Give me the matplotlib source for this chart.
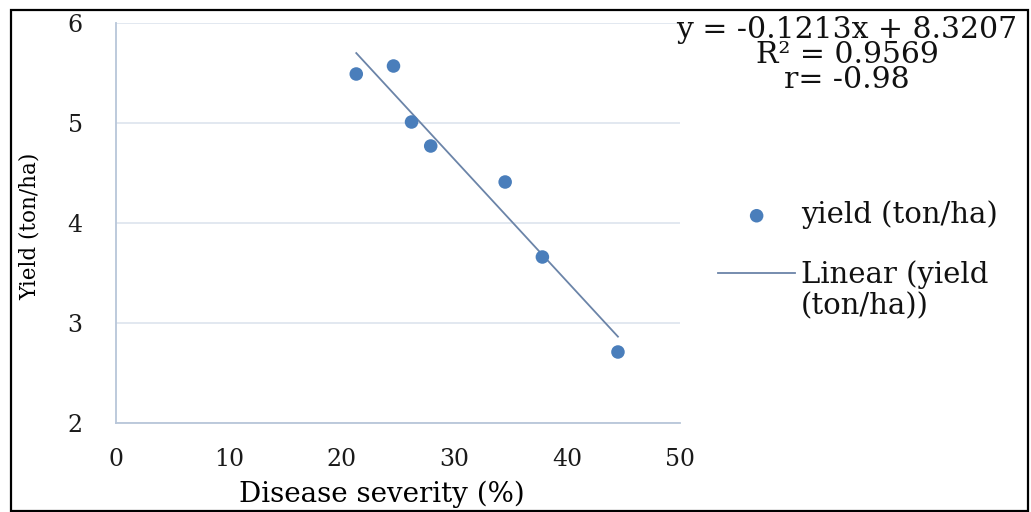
import numpy as np
import matplotlib
matplotlib.use("Agg")
import matplotlib.pyplot as plt
from matplotlib.patches import Rectangle

# ---- data ----
severity = [21.3, 24.6, 26.2, 27.9, 34.5, 37.8, 44.5]
yield_t = [5.49, 5.57, 5.01, 4.77, 4.41, 3.66, 2.71]
x_ticks = [0, 10, 20, 30, 40, 50]
y_ticks = [2, 3, 4, 5, 6]
eq_lines = ["y = -0.1213x + 8.3207", "R\u00b2 = 0.9569", "r= -0.98"]
series_label = "yield (ton/ha)"
trend_label_lines = ["Linear (yield", "(ton/ha))"]
x_label = "Disease severity (%)"
y_label = "Yield (ton/ha)"

plt.rcParams['font.family'] = ['DejaVu Serif']

W, H = 1031, 512
fig = plt.figure(figsize=(W / 100, H / 100), dpi=100)
fig.patch.set_facecolor('white')

def fx(px):
    return px / W

def fy(py):
    return 1 - py / H

ax = fig.add_axes([fx(116), fy(423), fx(680) - fx(116), fy(23) - fy(423)])

dot_color = '#4a7ebb'
trend_color = '#6b84a8'
axis_color = '#b8c6d9'
grid_color = '#dde4ee'

# trendline from a least-squares fit of the data
coef = np.polyfit(severity, yield_t, 1)
xs = np.array([min(severity), max(severity)])
trend, = ax.plot(xs, np.polyval(coef, xs), color=trend_color, lw=1.3, zorder=2)
sc = ax.scatter(severity, yield_t, s=95, color=dot_color, edgecolors='none', zorder=3)

ax.set_xlim(0, 50)
ax.set_ylim(2, 6)
ax.set_xticks(x_ticks)
ax.set_yticks(y_ticks)
ax.grid(axis='y', color=grid_color, lw=1.2)
ax.set_axisbelow(True)
for s in ['top', 'right']:
    ax.spines[s].set_visible(False)
for s in ['left', 'bottom']:
    ax.spines[s].set_color(axis_color)
    ax.spines[s].set_linewidth(1.3)
ax.tick_params(axis='both', length=0, labelsize=17, labelcolor='#1a1a1a')
ax.tick_params(axis='y', pad=24)
ax.tick_params(axis='x', pad=18)

ax.set_xlabel(x_label, fontsize=20, va='center')
ax.xaxis.set_label_coords((382 - 116) / 564, (423 - 494) / 400)
ax.set_ylabel(y_label, fontsize=15.5, va='center')
ax.yaxis.set_label_coords((30 - 116) / 564, (423 - 226) / 400)

# equation text
fig.text(fx(847), fy(55), "\n".join(eq_lines), ha='center', va='center',
         fontsize=21.5, linespacing=0.88, color='#111111')

# legend: rows centred at y=215 and y=275 px, handle from x=718 to 797
LEG_FS = 21

def make_legend(spacing):
    lg = fig.legend([sc, trend], [series_label, trend_label_lines[0]],
                    loc='center left', bbox_to_anchor=(fx(718), fy(245)),
                    bbox_transform=fig.transFigure, frameon=False,
                    fontsize=LEG_FS, labelspacing=spacing, borderpad=0,
                    borderaxespad=0, handlelength=2.65, handletextpad=0.2,
                    scatterpoints=1)
    for t in lg.get_texts():
        t.set_color('#111111')
    return lg

leg = make_legend(0.9)
fig.canvas.draw()
r = fig.canvas.get_renderer()
b0 = leg.get_texts()[0].get_window_extent(r)
b1 = leg.get_texts()[1].get_window_extent(r)
pitch = b0.y0 - b1.y0
em_px = LEG_FS * 100 / 72
spacing = 0.9 + (60 - pitch) / em_px
leg.remove()
leg = make_legend(spacing)
fig.canvas.draw()
b1 = leg.get_texts()[1].get_window_extent(r)
fig.text(b1.x0 / W, (b1.y0 - 31) / H, trend_label_lines[1], ha='left', va='bottom',
         fontsize=LEG_FS, color='#111111')

# outer border
fig.add_artist(Rectangle((fx(11), fy(511)), fx(1028) - fx(11), fy(10) - fy(511),
                         transform=fig.transFigure, fill=False, edgecolor='black',
                         lw=1.6))

fig.savefig("out.png", dpi=100)
